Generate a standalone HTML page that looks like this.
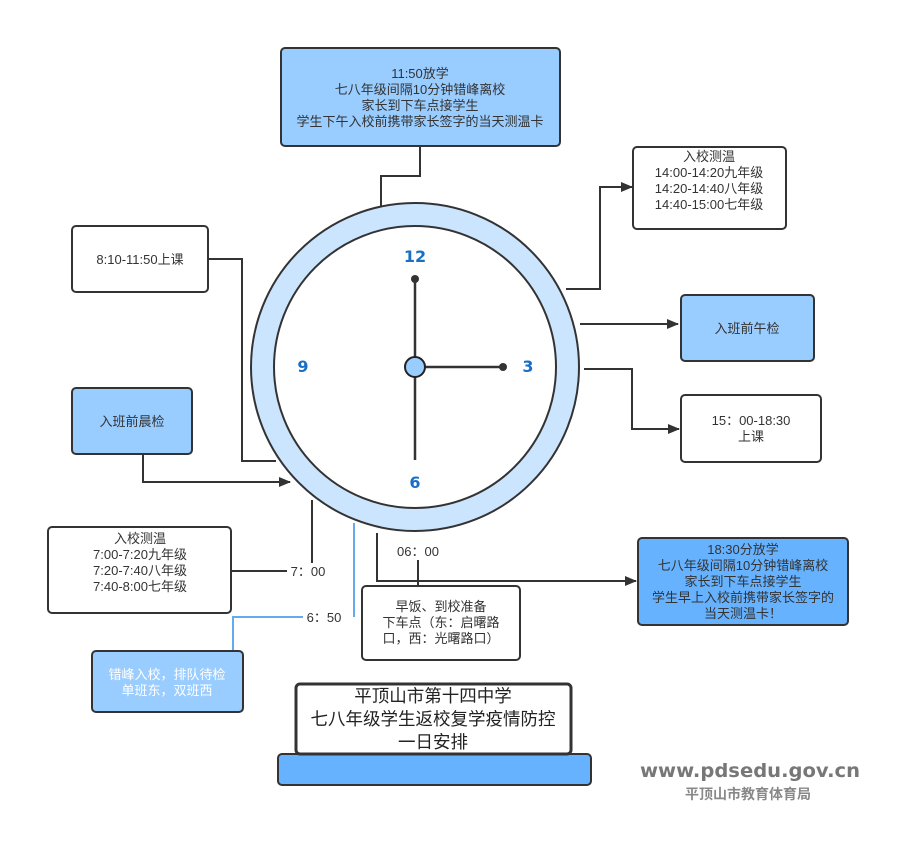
<!DOCTYPE html>
<html><head><meta charset="utf-8"><style>
html,body{margin:0;padding:0;background:#fff;width:909px;height:847px;overflow:hidden}
svg text{font-family:"Liberation Sans","Noto Sans CJK SC",sans-serif;}
</style></head><body>
<svg width="909" height="847" viewBox="0 0 909 847" xmlns="http://www.w3.org/2000/svg">
<defs><marker id="a" markerWidth="12" markerHeight="10" refX="11" refY="5" orient="auto" markerUnits="userSpaceOnUse"><path d="M0,0 L12,5 L0,10 z" fill="#333"/></marker></defs>
<g fill="none" stroke="#333" stroke-width="2">
<polyline points="420,146 420,176 381,176 381,206"/>
<polyline points="208,259 242,259 242,461 276,461"/>
<polyline points="143,454 143,482 290,482" marker-end="url(#a)"/>
<polyline points="231,571 287,571"/>
<polyline points="312,563 312,500"/>
<polyline points="377,533 377,581 636,581" marker-end="url(#a)"/>
<polyline points="418,560 418,586"/>
<polyline points="566,289 600,289 600,187 632,187" marker-end="url(#a)"/>
<polyline points="580,324 678,324" marker-end="url(#a)"/>
<polyline points="584,369 632,369 632,429 679,429" marker-end="url(#a)"/>
</g>
<g fill="none" stroke="#66aaee" stroke-width="2">
<polyline points="233,652 233,617 303,617"/>
<polyline points="354,617 354,523"/>
</g>
<circle cx="415" cy="367" r="164" fill="#cce5ff" stroke="#333" stroke-width="2"/>
<circle cx="415" cy="367" r="141" fill="#fff" stroke="#333" stroke-width="2"/>
<g stroke="#333" stroke-width="2.5"><line x1="415" y1="279" x2="415" y2="460"/><line x1="415" y1="367" x2="503" y2="367"/></g>
<circle cx="415" cy="279" r="4" fill="#333"/><circle cx="503" cy="367" r="4" fill="#333"/>
<circle cx="415" cy="367" r="10" fill="#99ccff" stroke="#222" stroke-width="2"/>
<g fill="#1a6fc4" font-weight="bold" font-size="16" text-anchor="middle">
<text x="415" y="262" style="font-family:'DejaVu Sans',sans-serif">12</text><text x="303" y="372" style="font-family:'DejaVu Sans',sans-serif">9</text><text x="528" y="372" style="font-family:'DejaVu Sans',sans-serif">3</text><text x="415" y="488" style="font-family:'DejaVu Sans',sans-serif">6</text></g>
<g stroke="#333" stroke-width="2">
<rect x="281" y="48" width="279" height="98" rx="4" fill="#99ccff"/>
<rect x="72" y="226" width="136" height="66" rx="4" fill="#fff"/>
<rect x="72" y="388" width="120" height="66" rx="4" fill="#99ccff"/>
<rect x="48" y="527" width="183" height="86" rx="4" fill="#fff"/>
<rect x="92" y="651" width="151" height="61" rx="4" fill="#99ccff"/>
<rect x="362" y="586" width="158" height="74" rx="4" fill="#fff"/>
<rect x="633" y="147" width="153" height="82" rx="4" fill="#fff"/>
<rect x="681" y="295" width="133" height="66" rx="4" fill="#99ccff"/>
<rect x="681" y="395" width="140" height="67" rx="4" fill="#fff"/>
<rect x="638" y="538" width="210" height="87" rx="4" fill="#66b2ff"/>
<rect x="278" y="754" width="313" height="31" rx="4" fill="#66b2ff"/>
<rect x="296" y="684" width="275" height="70" rx="4" fill="#fff" stroke-width="3"/>
</g>
<g font-size="13" fill="#333" text-anchor="middle">
<text x="420" y="78">11:50放学</text><text x="420" y="94">七八年级间隔10分钟错峰离校</text><text x="420" y="110">家长到下车点接学生</text><text x="420" y="126">学生下午入校前携带家长签字的当天测温卡</text>
<text x="140" y="264">8:10-11:50上课</text>
<text x="132" y="426">入班前晨检</text>
<text x="140" y="543">入校测温</text><text x="140" y="559">7:00-7:20九年级</text><text x="140" y="575">7:20-7:40八年级</text><text x="140" y="591">7:40-8:00七年级</text>
<text x="308" y="576">7：00</text>
<text x="324" y="622">6：50</text>
<text x="418" y="556">06：00</text>
<text x="441" y="611">早饭、到校准备</text><text x="441" y="627">下车点（东：启曙路</text><text x="441" y="643">口，西：光曙路口）</text>
<text x="709" y="161">入校测温</text><text x="709" y="177">14:00-14:20九年级</text><text x="709" y="193">14:20-14:40八年级</text><text x="709" y="209">14:40-15:00七年级</text>
<text x="747" y="333">入班前午检</text>
<text x="751" y="425">15：00-18:30</text><text x="751" y="441">上课</text>
<text x="743" y="554">18:30分放学</text><text x="743" y="570">七八年级间隔10分钟错峰离校</text><text x="743" y="586">家长到下车点接学生</text><text x="743" y="602">学生早上入校前携带家长签字的</text><text x="743" y="618">当天测温卡！</text>
</g>
<g font-size="13" fill="#fff" text-anchor="middle"><text x="167" y="679">错峰入校，排队待检</text><text x="167" y="695">单班东，双班西</text></g>
<g font-size="17.5" fill="#222" text-anchor="middle"><text x="433" y="702">平顶山市第十四中学</text><text x="433" y="725">七八年级学生返校复学疫情防控</text><text x="433" y="748">一日安排</text></g>
<text x="750" y="777" font-size="19" font-weight="bold" fill="#777" text-anchor="middle" textLength="220" lengthAdjust="spacingAndGlyphs" style="font-family:'DejaVu Sans',sans-serif">www.pdsedu.gov.cn</text>
<text x="748" y="799" font-size="14" font-weight="bold" fill="#888" text-anchor="middle">平顶山市教育体育局</text>
</svg>
</body></html>
